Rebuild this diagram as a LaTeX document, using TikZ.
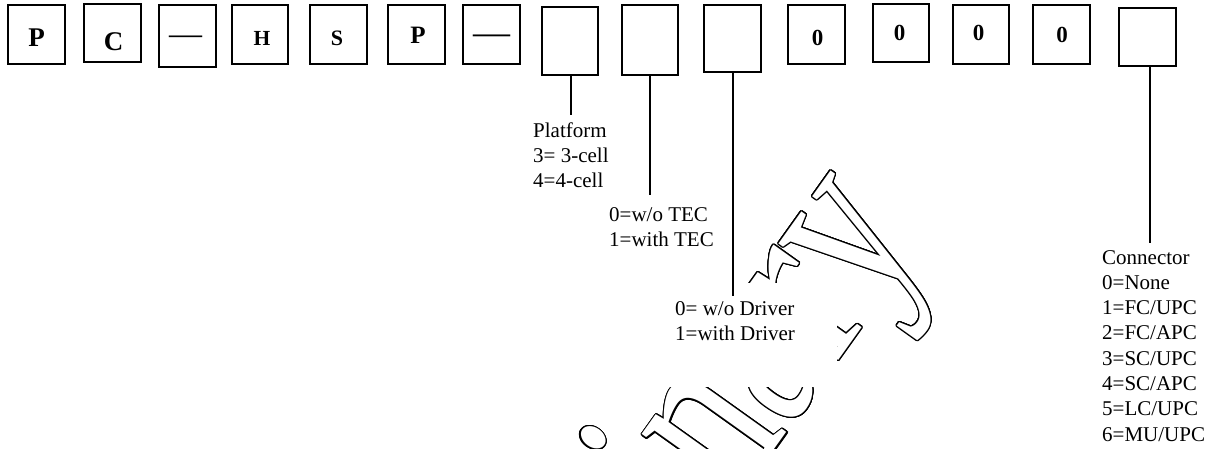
\documentclass[tikz,border=0pt]{standalone}
\usepackage{fontspec}
\setmainfont{Liberation Serif}
\tikzset{
  cell/.style={draw, line width=1.8pt, inner sep=0pt},
  boxch/.style={anchor=base, inner sep=0pt},
  lbl/.style={anchor=base west, inner sep=0pt, font=\fontsize{21}{25}\selectfont},
  lead/.style={line width=1.6pt},
  wm/.style={anchor=base east, rotate=54.5, xscale=0.73, inner sep=0pt, font=\fontsize{254}{254}\selectfont}
}
\begin{document}
\begin{tikzpicture}[x=1pt,y=-1pt]
\useasboundingbox (0,0) rectangle (1215,448);
\fill[white] (0,0) rectangle (1215,448);
% watermark
\coordinate (wmpos) at (926.3,237.7);
\begin{scope}
\clip (0,0) rectangle (1215,448);
\foreach \a in {0,15,...,345} {
  \node[wm, text=black] (wm\a) at ([shift={(\a:1.1)}]wmpos) {Preliminary};
}
\node[wm, text=white] (wmtext) at (wmpos) {Preliminary};
\fill[white] (600,283) rectangle (837,387);
\end{scope}
% boxes
\node[cell, minimum width=57.2pt, minimum height=59.2pt] (b1) at (36.5,34.5) {};
\node[cell, minimum width=57.2pt, minimum height=58.2pt] (b2) at (112.5,33) {};
\node[cell, minimum width=57.2pt, minimum height=62.2pt] (b3) at (187.5,36) {};
\node[cell, minimum width=56.2pt, minimum height=59.2pt] (b4) at (260,34.5) {};
\node[cell, minimum width=57.2pt, minimum height=59.2pt] (b5) at (338.5,34.5) {};
\node[cell, minimum width=57.2pt, minimum height=59.2pt] (b6) at (416.5,34.5) {};
\node[cell, minimum width=57.2pt, minimum height=59.2pt] (b7) at (491.5,34.5) {};
\node[cell, minimum width=56.2pt, minimum height=68.2pt] (b8) at (570,41) {};
\node[cell, minimum width=56.2pt, minimum height=70.2pt] (b9) at (650,40) {};
\node[cell, minimum width=57.2pt, minimum height=67.2pt] (b10) at (732.5,38.5) {};
\node[cell, minimum width=57.2pt, minimum height=59.2pt] (b11) at (816.5,34.5) {};
\node[cell, minimum width=56.2pt, minimum height=58.2pt] (b12) at (901,33) {};
\node[cell, minimum width=56.2pt, minimum height=59.2pt] (b13) at (981,34.5) {};
\node[cell, minimum width=57.2pt, minimum height=59.2pt] (b14) at (1061.5,34.5) {};
\node[cell, minimum width=57.2pt, minimum height=58.2pt] (b15) at (1147.5,37) {};
% box characters
\node[boxch, font=\fontsize{27}{27}\selectfont\bfseries] (c1) at (36.5,46.4) {P};
\node[boxch, font=\fontsize{27}{27}\selectfont\bfseries] (c2) at (113.5,50) {C};
\node[boxch, font=\fontsize{33}{33}\selectfont] (c3) at (185.5,44.2) {—};
\node[boxch, font=\fontsize{21.5}{21.5}\selectfont\bfseries] (c4) at (262,45) {H};
\node[boxch, font=\fontsize{22}{22}\selectfont\bfseries] (c5) at (337,45) {S};
\node[boxch, font=\fontsize{25}{25}\selectfont\bfseries] (c6) at (418,43.3) {P};
\node[boxch, font=\fontsize{37}{37}\selectfont] (c7) at (491.5,44.6) {—};
\node[boxch, font=\fontsize{23}{23}\selectfont\bfseries] (c11) at (817.5,45) {0};
\node[boxch, font=\fontsize{23}{23}\selectfont\bfseries] (c12) at (899.5,40) {0};
\node[boxch, font=\fontsize{23}{23}\selectfont\bfseries] (c13) at (978.5,40) {0};
\node[boxch, font=\fontsize{23}{23}\selectfont\bfseries] (c14) at (1062,42.3) {0};
% leader lines
\coordinate (l1) at (571,115);
\coordinate (l2) at (650,195);
\coordinate (l3) at (733,296);
\coordinate (l4) at (1150,243);
\draw[lead] (b8.south -| l1) -- (l1);
\draw[lead] (b9.south -| l2) -- (l2);
\draw[lead] (b10.south -| l3) -- (l3);
\draw[lead] ([yshift=2pt]b15.south -| l4) -- (l4);
% labels
\node[lbl] (p1) at (533,137.3) {Platform};
\node[lbl] (p2) at (533,162.6) {3= 3-cell};
\node[lbl] (p3) at (533,187.9) {4=4-cell};
\node[lbl] (t1) at (609,221) {0=w/o TEC};
\node[lbl] (t2) at (609,246.3) {1=with TEC};
\node[lbl] (d1) at (675,315) {0= w/o Driver};
\node[lbl] (d2) at (675,340.3) {1=with Driver};
\node[lbl] (k0) at (1102,264) {Connector};
\node[lbl] (k1) at (1102,289.3) {0=None};
\node[lbl] (k2) at (1102,314.6) {1=FC/UPC};
\node[lbl] (k3) at (1102,339.9) {2=FC/APC};
\node[lbl] (k4) at (1102,365.2) {3=SC/UPC};
\node[lbl] (k5) at (1102,390.5) {4=SC/APC};
\node[lbl] (k6) at (1102,415.8) {5=LC/UPC};
\node[lbl] (k7) at (1102,441.1) {6=MU/UPC};
\end{tikzpicture}
\end{document}
